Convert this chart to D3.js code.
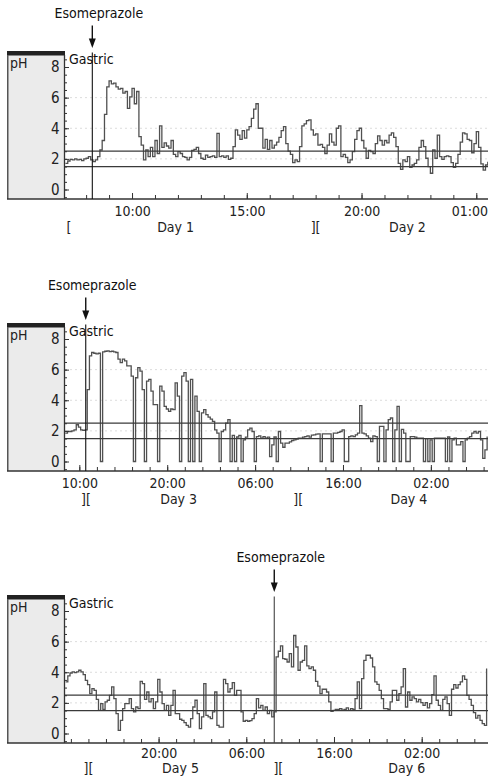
<!DOCTYPE html>
<html>
<head>
<meta charset="utf-8">
<script src="https://cdn.jsdelivr.net/npm/d3@7/dist/d3.min.js"></script>
<style>
  html, body { margin: 0; padding: 0; background: #fff; }
  svg { display: block; font-family: "DejaVu Sans Condensed", "DejaVu Sans", sans-serif; }
</style>
</head>
<body>
<svg id="chart" width="488" height="782"></svg>
<script>
// Gastric pH, one reading every *Step hours from *Start (hours counted from midnight of the first day shown)
const day12Start = 7.1, day12Step = 0.1;
const day12PH = [
  1.71, 1.86, 1.97, 1.93, 2.0, 1.93, 1.97, 1.88, 2.0, 2.04,
  2.15, 1.93, 1.82, 1.93, 2.15, 2.58, 3.2, 4.9, 6.7, 7.1,
  6.9, 6.95, 6.7, 6.55, 6.6, 6.3, 6.4, 5.3, 6.05, 6.6,
  5.6, 6.4, 3.45, 2.9, 1.93, 2.58, 2.15, 2.75, 2.15, 3.2,
  2.35, 4.15, 2.75, 3.05, 2.84, 2.7, 3.2, 2.3, 2.15, 2.47,
  2.35, 2.15, 2.1, 1.93, 2.1, 2.55, 2.62, 2.75, 2.35, 2.04,
  1.97, 2.25, 2.1, 2.15, 2.2, 2.1, 3.67, 2.15, 2.2, 2.1,
  2.2, 1.97, 2.04, 2.8, 3.9, 3.55, 3.27, 3.85, 3.35, 3.9,
  4.1, 4.65, 5.25, 5.6, 4.0, 4.0, 2.7, 3.27, 2.62, 3.2,
  2.7, 2.9, 3.1, 3.4, 3.85, 4.1, 3.0, 2.5, 2.3, 1.75,
  1.93, 1.82, 2.8, 4.15, 4.28, 4.5, 4.55, 3.9, 3.55, 3.63,
  2.9, 2.95, 2.75, 2.35, 2.9, 3.63, 3.1, 2.9, 4.0, 4.15,
  2.15, 2.3, 2.1, 1.75, 1.93, 2.47, 3.27, 3.85, 4.0, 3.2,
  2.7, 2.04, 2.55, 2.47, 2.35, 3.0, 3.5, 3.2, 2.9, 3.2,
  3.05, 3.55, 3.7, 3.4, 2.8, 1.71, 1.32, 1.93, 1.82, 2.15,
  1.45, 1.6, 1.71, 1.93, 2.75, 3.2, 2.8, 2.04, 1.49, 1.06,
  2.58, 2.04, 3.55, 2.15, 1.97, 2.15, 2.2, 2.15, 1.75, 1.45,
  1.71, 2.3, 3.1, 3.7, 3.63, 3.27, 3.2, 2.4, 3.0, 3.78,
  2.75, 1.67, 1.27, 1.6, 1.82
];

const day34Start = 8.4, day34Step = 0.25;
const day34PH = [
  1.85, 1.96, 1.96, 2.0, 2.07, 2.4, 2.25, 2.07, 2.03, 2.07,
  4.7, 6.9, 7.12, 7.07, 7.03, 7.07, 0, 7.16, 7.2, 7.22,
  7.18, 7.2, 7.16, 7.12, 6.68, 6.46, 6.68, 6.57, 6.24, 6.24,
  5.58, 0, 5.47, 6.13, 5.9, 4.7, 0, 5.25, 5.36, 4.6,
  3.72, 3.72, 0, 4.92, 4.6, 3.6, 3.43, 3.28, 3.43, 3.39,
  5.14, 4.27, 0, 5.58, 5.8, 5.25, 0, 5.36, 0, 4.27,
  3.28, 0, 3.17, 3.39, 3.06, 2.9, 2.77, 2.62, 2.07, 1.85,
  0, 1.96, 2.07, 2.51, 2.73, 0, 1.7, 0, 1.6, 1.7,
  0, 1.41, 1.59, 2.07, 2.18, 1.96, 0, 1.63, 1.68, 1.52,
  1.63, 1.52, 1.59, 0.32, 1.09, 1.6, 0, 1.96, 1.2, 0.93,
  1.2, 1.2, 1.28, 1.37, 1.41, 1.46, 1.52, 1.52, 1.59, 1.63,
  1.68, 1.59, 1.72, 1.74, 1.79, 1.81, 0, 1.81, 1.81, 1.81,
  1.81, 0, 1.85, 1.85, 1.9, 1.96, 2.07, 0, 0, 1.63,
  1.68, 1.63, 1.74, 1.85, 3.65, 1.85, 1.81, 1.68, 1.52, 1.3,
  1.68, 1.63, 0, 2.29, 2.29, 0, 2.07, 2.73, 2.84, 0,
  2.07, 3.6, 0, 2.1, 1.85, 0, 0, 1.63, 1.63, 1.59,
  1.52, 1.52, 1.52, 0, 1.5, 0, 1.41, 0, 1.52, 1.52,
  1.52, 1.52, 1.52, 0, 1.6, 0, 1.41, 1.52, 1.09, 1.09,
  1.3, 0, 1.41, 1.52, 1.63, 1.85, 1.96, 1.85, 1.96, 1.41,
  0.21, 0.76, 1.63
];

const day56Start = 9.4, day56Step = 0.25;
const day56PH = [
  3.37, 3.76, 3.95, 4.02, 3.98, 4.02, 4.13, 4.02, 3.85, 3.47,
  3.19, 2.6, 2.93, 2.82, 2.23, 1.51, 1.95, 1.58, 2.06, 2.17,
  2.49, 3.04, 2.28, 1.3, 0.21, 0.86, 1.62, 1.95, 1.95, 2.28,
  1.62, 1.41, 1.73, 1.62, 3.41, 3.26, 2.23, 2.71, 2.06, 2.28,
  1.62, 2.06, 3.54, 2.71, 1.95, 1.51, 1.84, 1.19, 1.84, 2.82,
  1.3, 1.3, 0.93, 0.86, 0.71, 0.53, 0.42, 0.97, 1.73, 2.17,
  1.3, 0.32, 1.08, 3.26, 1.19, 1.08, 0.97, 1.41, 2.71, 0.53,
  0.42, 0.42, 3.54, 3.26, 2.71, 2.93, 3.32, 2.49, 2.82, 2.82,
  1.41, 0.8, 0.86, 0.8, 0.84, 0.97, 1.3, 2.28, 1.67, 1.84,
  1.51, 1.73, 1.3, 1.51, 1.08, 1.41, 5.0, 5.37, 5.72, 4.89,
  4.85, 4.67, 5.22, 4.35, 6.4, 5.65, 4.13, 4.67, 4.78, 5.72,
  4.41, 4.24, 4.35, 4.13, 3.41, 3.1, 2.6, 2.89, 2.89, 2.71,
  2.06, 1.45, 1.51, 1.58, 1.58, 1.62, 1.53, 1.58, 1.67, 1.51,
  1.62, 1.58, 2.28, 3.37, 1.62, 3.58, 4.78, 5.11, 5.11, 4.93,
  4.35, 3.37, 3.21, 2.82, 2.28, 1.62, 1.62, 1.58, 2.06, 2.82,
  2.82, 2.17, 2.6, 3.04, 4.24, 1.73, 2.71, 2.17, 2.39, 2.28,
  2.06, 2.23, 2.02, 1.84, 2.02, 1.67, 1.95, 2.54, 3.76, 2.17,
  1.84, 1.51, 2.23, 2.39, 1.95, 1.19, 2.89, 3.19, 2.97, 3.19,
  3.37, 3.76, 3.54, 2.49, 2.23, 1.84, 1.36, 1.01, 1.19, 0.86,
  0.64, 0.53, 4.24
];

// visible hour ranges of the three time axes
const day12Domain = [7.08, 25.51];
const day34Domain = [8.37, 56.5];
const day56Domain = [9.33, 57.56];

// time-axis ticks (hours); labelled ones get a longer tick
const day12Ticks = [8, 9, 10, 11, 12, 13, 14, 15, 16, 17, 18, 19, 20, 21, 22, 23, 24, 25];
const day12Labelled = [10, 15, 20, 25];
const day34Ticks = [10, 12, 14, 16, 18, 20, 22, 24, 26, 28, 30, 32, 34, 36, 38, 40, 42, 44, 46, 48, 50, 52, 54, 56];
const day34Labelled = [10, 20, 30, 40, 50];
const day56Ticks = [10, 12, 14, 16, 18, 20, 22, 24, 26, 28, 30, 32, 34, 36, 38, 40, 42, 44, 46, 48, 50, 52, 54, 56];
const day56Labelled = [20, 30, 40, 50];

// day markers under each time axis
const day12Marks = [["[", 7.25], ["Day 1", 11.9], ["][", 18.0], ["Day 2", 22.0]];
const day34Marks = [["][", 10.76], ["Day 3", 21.3], ["][", 34.9], ["Day 4", 47.5]];
const day56Marks = [["][", 12.0], ["Day 5", 22.5], ["][", 33.65], ["Day 6", 48.3]];

// dose times (hours) and pH scale
const esomeprazoleHours = [8.27, 10.73, 33.19];
const referencePH = [1.5, 2.5];
const gridPH = [2, 4, 6];
const phTicks = [0, 2, 4, 6, 8];
const phMinorTicks = [-0.5, 0, 0.5, 1, 1.5, 2, 2.5, 3, 3.5, 4, 4.5, 5, 5.5, 6, 6.5, 7, 7.5, 8, 8.5];

const panels = [
  { start: day12Start, step: day12Step, ph: day12PH, domain: day12Domain, ticks: day12Ticks, labelled: day12Labelled, marks: day12Marks, dose: esomeprazoleHours[0], top: 51.5, tickDy: 17, dayDy: 33 },
  { start: day34Start, step: day34Step, ph: day34PH, domain: day34Domain, ticks: day34Ticks, labelled: day34Labelled, marks: day34Marks, dose: esomeprazoleHours[1], top: 323.5, tickDy: 16.5, dayDy: 32.5 },
  { start: day56Start, step: day56Step, ph: day56PH, domain: day56Domain, ticks: day56Ticks, labelled: day56Labelled, marks: day56Marks, dose: esomeprazoleHours[2], top: 595.5, tickDy: 15, dayDy: 29.5 }
];

const svg = d3.select("#chart");
const plotLeft = 65, plotRight = 488, boxLeft = 7;
const fontStack = "\"DejaVu Sans Condensed\", \"DejaVu Sans\", sans-serif";
const hourLabel = h => String(((h % 24) + 24) % 24).padStart(2, "0") + ":00";

panels.forEach((p, idx) => {
  const top = p.top;
  const axisY = top + 147.5;
  const plotTop = top + 3.5;
  const x = d3.scaleLinear().domain(p.domain).range([plotLeft, plotRight]);
  const y = d3.scaleLinear().domain([0, 8]).range([top + 138, top + 15.5]);
  const g = svg.append("g");

  // label box on the left
  g.append("rect").attr("x", boxLeft).attr("y", plotTop).attr("width", plotLeft - boxLeft).attr("height", axisY - plotTop)
    .attr("fill", "#ebebeb");
  g.append("rect").attr("x", boxLeft).attr("y", top - 0.5).attr("width", plotLeft - boxLeft).attr("height", 4.5)
    .attr("fill", "#222");
  g.append("line").attr("x1", boxLeft + 0.75).attr("x2", boxLeft + 0.75).attr("y1", plotTop).attr("y2", axisY)
    .attr("stroke", "#555").attr("stroke-width", 1.5);
  g.append("text").attr("x", 10).attr("y", top + 16.5).attr("font-size", 14).attr("fill", "#222").text("pH");

  // faint grid
  g.selectAll(".grid").data(gridPH).enter().append("line")
    .attr("x1", plotLeft).attr("x2", plotRight).attr("y1", d => y(d)).attr("y2", d => y(d))
    .attr("stroke", "#dcdcdc").attr("stroke-width", 1).attr("stroke-dasharray", "2,3");

  // pH trace
  const clipId = "clip" + idx;
  g.append("clipPath").attr("id", clipId).append("rect")
    .attr("x", plotLeft).attr("y", plotTop).attr("width", plotRight - plotLeft).attr("height", axisY - plotTop);
  const series = p.ph.map((v, i) => ({ h: p.start + i * p.step, v }));
  const line = d3.line().x(d => x(d.h)).y(d => y(d.v)).curve(d3.curveStepAfter);
  g.append("path").datum(series).attr("clip-path", `url(#${clipId})`)
    .attr("d", line).attr("fill", "none").attr("stroke", "#505050").attr("stroke-width", 1.3)
    .attr("stroke-linejoin", "miter");

  // reference band lines
  g.selectAll(".ref").data(referencePH).enter().append("line")
    .attr("x1", plotLeft).attr("x2", plotRight).attr("y1", d => y(d)).attr("y2", d => y(d))
    .attr("stroke", "#3a3a3a").attr("stroke-width", 1.2);

  // pH axis: ticks point into the plot, labels sit in the grey box
  const yMinor = g.append("g").attr("transform", `translate(${plotLeft - 0.5},0)`)
    .call(d3.axisLeft(y).tickValues(phMinorTicks).tickSize(-2.5).tickFormat(""));
  const yMajor = g.append("g").attr("transform", `translate(${plotLeft - 0.5},0)`)
    .call(d3.axisLeft(y).tickValues(phTicks).tickSize(-4.5).tickPadding(5).tickFormat(d3.format("d")));
  [yMinor, yMajor].forEach(a => {
    a.select(".domain").remove();
    a.selectAll("line").attr("stroke", "#333");
  });
  yMajor.selectAll("text").attr("font-size", 15).attr("fill", "#222").attr("font-family", fontStack);
  g.append("line").attr("x1", plotLeft - 0.5).attr("x2", plotLeft - 0.5).attr("y1", plotTop).attr("y2", axisY)
    .attr("stroke", "#333").attr("stroke-width", 1.3);

  // time axis
  const xMinor = g.append("g").attr("transform", `translate(0,${axisY})`)
    .call(d3.axisBottom(x).tickValues(p.ticks).tickSize(-4).tickFormat(""));
  const xMajor = g.append("g").attr("transform", `translate(0,${axisY})`)
    .call(d3.axisBottom(x).tickValues(p.labelled).tickSize(-6).tickFormat(hourLabel));
  [xMinor, xMajor].forEach(a => {
    a.select(".domain").remove();
    a.selectAll("line").attr("stroke", "#333");
  });
  xMajor.selectAll("text").attr("y", p.tickDy).attr("dy", null).attr("font-size", 14).attr("fill", "#222")
    .attr("font-family", fontStack);
  // keep a label that would run past the right edge inside the chart
  xMajor.selectAll(".tick").each(function (d) {
    const t = d3.select(this).select("text");
    const half = t.node().getComputedTextLength() / 2;
    const over = x(d) + half - (plotRight - 0.5);
    if (over > 0) t.attr("x", -over);
  });
  g.append("line").attr("x1", boxLeft).attr("x2", plotRight).attr("y1", axisY).attr("y2", axisY)
    .attr("stroke", "#333").attr("stroke-width", 1.6);

  // day markers
  g.selectAll(".day").data(p.marks).enter().append("text")
    .attr("x", d => x(d[1])).attr("y", axisY + p.dayDy).attr("text-anchor", "middle")
    .attr("font-size", 14).attr("fill", "#222").text(d => d[0]);

  // dose marker
  const dx = x(p.dose);
  g.append("line").attr("x1", dx).attr("x2", dx).attr("y1", top + 1).attr("y2", axisY)
    .attr("stroke", idx === 2 ? "#444" : "#111").attr("stroke-width", 1.1);
  g.append("line").attr("x1", dx).attr("x2", dx).attr("y1", top - 26).attr("y2", top - 12)
    .attr("stroke", "#111").attr("stroke-width", 1.4);
  g.append("path")
    .attr("d", `M${dx - 3.5},${top - 13}L${dx + 3.5},${top - 13}L${dx},${top - 3.5}Z`).attr("fill", "#111");
  g.append("text").attr("x", dx + 6.5).attr("y", top - 34).attr("text-anchor", "middle")
    .attr("font-size", 14).attr("fill", "#111").text("Esomeprazole");

  g.append("text").attr("x", plotLeft + 4).attr("y", top + 12).attr("font-size", 14).attr("fill", "#111").text("Gastric");
});
</script>
</body>
</html>
